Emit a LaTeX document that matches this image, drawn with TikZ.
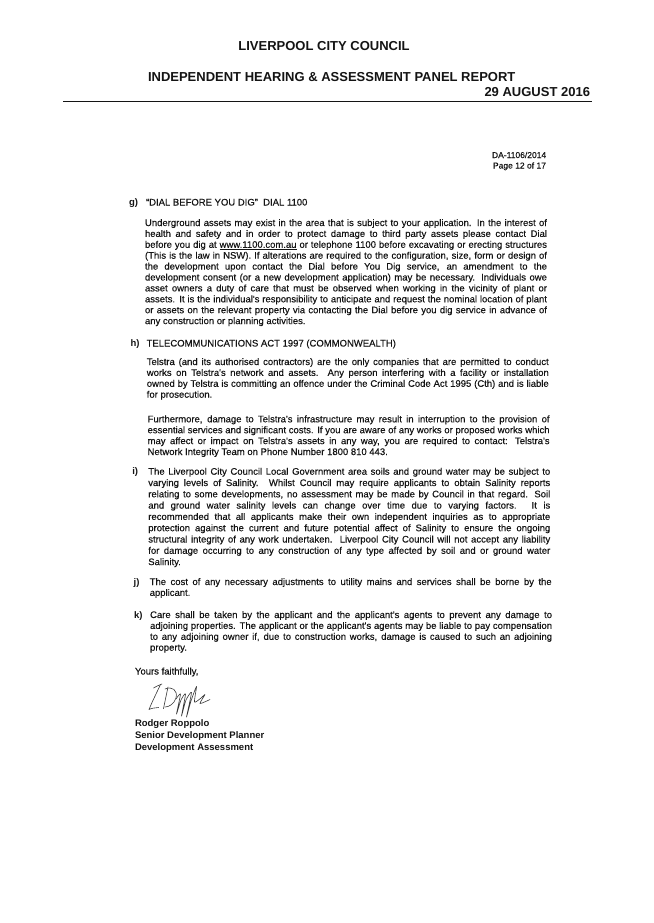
\documentclass[tikz,border=0pt]{standalone}
\usepackage{fontspec}
\setmainfont{Liberation Sans}
\newfontfamily\scanfont{Liberation Sans}[FakeBold=0.25]
\newlength{\tw}\setlength{\tw}{402pt}
\newcommand{\J}[1]{\makebox[\tw][s]{#1}}
\definecolor{ink}{gray}{0.08}
\begin{document}
\begin{tikzpicture}[x=1pt,y=-1pt,
  head/.style={inner sep=0,outer sep=0,text=ink,font=\fontsize{13}{15}\selectfont\bfseries},
  small/.style={anchor=base west,inner sep=0,outer sep=0,text=ink,font=\scanfont\fontsize{8.5}{10}\selectfont},
  body/.style={anchor=base west,inner sep=0,outer sep=0,text=ink,font=\scanfont\fontsize{9.5}{10.9}\selectfont},
  lab/.style={anchor=base west,inner sep=0,outer sep=0,text=ink,font=\fontsize{9.5}{10.9}\selectfont\bfseries},
  sig/.style={ink!85,line width=0.6pt,line cap=round,line join=round}]
\useasboundingbox (0,0) rectangle (653,923);
\fill[white] (0,0) rectangle (653,923);
% header
\node[head,anchor=base] (t1) at (324,50.5) {LIVERPOOL CITY COUNCIL};
\node[head,anchor=base west] (t2) at (148,81.3) {INDEPENDENT HEARING \& ASSESSMENT PANEL REPORT};
\node[head,anchor=base east] (t3) at (590,96.3) {29 AUGUST 2016};
\draw[ink,line width=1.2pt] (63,101.5) -- (592,101.5);
\node[small] (da) at (492,158) {DA-1106/2014};
\node[small] (pg) at (493,168.5) {Page 12 of 17};
% body
\node[lab] (gl) at (129,205.5) {g)};
\node[body] (gt) at (146,205.5) {“DIAL BEFORE YOU DIG”\ \ DIAL 1100};
\node[body] (gp) at (145,226) {\parbox[t]{\tw}{%
\J{Underground assets may exist in the area that is subject to your application. In the interest of}\\
\J{health and safety and in order to protect damage to third party assets please contact Dial}\\
\J{before you dig at \underline{www.1100.com.au} or telephone 1100 before excavating or erecting structures}\\
\J{(This is the law in NSW). If alterations are required to the configuration, size, form or design of}\\
\J{the development upon contact the Dial before You Dig service, an amendment to the}\\
\J{development consent (or a new development application) may be necessary. Individuals owe}\\
\J{asset owners a duty of care that must be observed when working in the vicinity of plant or}\\
\J{assets. It is the individual's responsibility to anticipate and request the nominal location of plant}\\
\J{or assets on the relevant property via contacting the Dial before you dig service in advance of}\\
any construction or planning activities.}};
\node[lab] (hl) at (130.6,346.5) {h)};
\node[body] (ht) at (146.6,346.5) {TELECOMMUNICATIONS ACT 1997 (COMMONWEALTH)};
\node[body] (hp1) at (146.8,365) {\parbox[t]{\tw}{%
\J{Telstra (and its authorised contractors) are the only companies that are permitted to conduct}\\
\J{works on Telstra's network and assets. Any person interfering with a facility or installation}\\
\J{owned by Telstra is committing an offence under the Criminal Code Act 1995 (Cth) and is liable}\\
for prosecution.}};
\node[body] (hp2) at (147.6,422.3) {\parbox[t]{\tw}{%
\J{Furthermore, damage to Telstra's infrastructure may result in interruption to the provision of}\\
\J{essential services and significant costs. If you are aware of any works or proposed works which}\\
\J{may affect or impact on Telstra's assets in any way, you are required to contact: Telstra's}\\
Network Integrity Team on Phone Number 1800 810 443.}};
\node[lab] (il) at (132.3,474.7) {i)};
\node[body] (ip) at (148.3,474.7) {\parbox[t]{\tw}{\baselineskip=11.3pt
\J{The Liverpool City Council Local Government area soils and ground water may be subject to}\\
\J{varying levels of Salinity. Whilst Council may require applicants to obtain Salinity reports}\\
\J{relating to some developments, no assessment may be made by Council in that regard. Soil}\\
\J{and ground water salinity levels can change over time due to varying factors. It is}\\
\J{recommended that all applicants make their own independent inquiries as to appropriate}\\
\J{protection against the current and future potential affect of Salinity to ensure the ongoing}\\
\J{structural integrity of any work undertaken.\ \ Liverpool City Council will not accept any liability}\\
\J{for damage occurring to any construction of any type affected by soil and or ground water}\\
Salinity.}};
\node[lab] (jl) at (133.7,585) {j)};
\node[body] (jp) at (149.7,585) {\parbox[t]{\tw}{%
\J{The cost of any necessary adjustments to utility mains and services shall be borne by the}\\
applicant.}};
\node[lab] (kl) at (134.1,618) {k)};
\node[body] (kp) at (150.1,618) {\parbox[t]{\tw}{%
\J{Care shall be taken by the applicant and the applicant's agents to prevent any damage to}\\
\J{adjoining properties. The applicant or the applicant's agents may be liable to pay compensation}\\
\J{to any adjoining owner if, due to construction works, damage is caused to such an adjoining}\\
property.}};
\node[body] (yf) at (135,674.5) {Yours faithfully,};
% signature
\draw[sig] (153.5,688) .. controls (156,686.5) and (159,685) .. (162,684);
\draw[sig] (160.5,684.5) .. controls (157,692) and (152,702) .. (149,709.5) .. controls (151,708.5) and (155,707.5) .. (158.5,707.5);
\draw[sig] (168,687) -- (163.5,708.5);
\draw[sig] (165,689) .. controls (172,686) and (178,690) .. (176,698) .. controls (174,704) and (169,707) .. (165,707);
\draw[sig] plot[smooth,tension=0.4] coordinates {(176,699) (180.5,694) (176.5,714) (181,700) (185.5,694) (181.5,716) (186,700) (191.5,692.5) (186.5,717) (191,701) (196.5,686.5) (194.5,702) (201,698) (205,694.5) (200,703.5) (210,699.5)};
\node[lab] (nm) at (135,726.5) {Rodger Roppolo};
\node[lab] (ps) at (135,738.5) {Senior Development Planner};
\node[lab] (dp) at (135,750.5) {Development Assessment};
\end{tikzpicture}
\end{document}
